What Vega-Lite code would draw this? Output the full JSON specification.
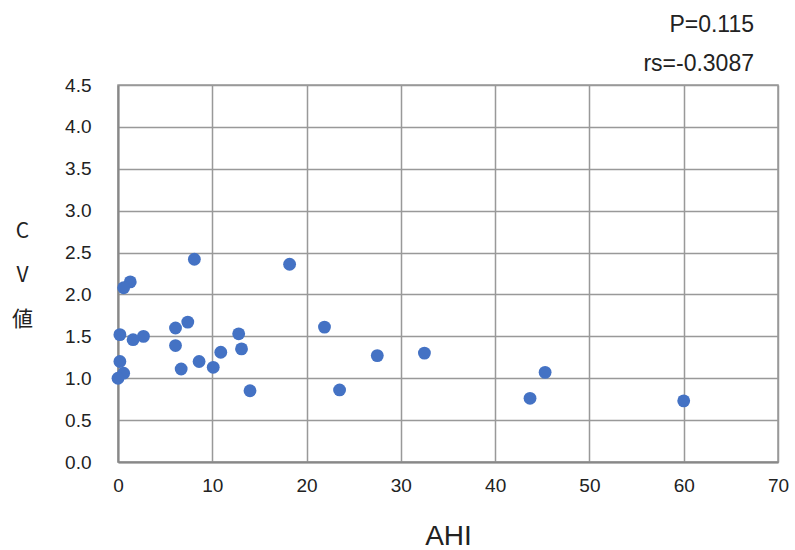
{
  "$schema": "https://vega.github.io/schema/vega-lite/v6.json",
  "width": 660,
  "height": 377,
  "autosize": {"type": "none"},
  "padding": {"left": 118, "top": 85, "right": 17, "bottom": 88},
  "background": "white",
  "title": {
    "text": "P=0.115",
    "subtitle": "rs=-0.3087",
    "anchor": "end",
    "frame": "group",
    "dx": -24,
    "offset": 0,
    "font": "Liberation Sans",
    "fontSize": 23,
    "fontWeight": "normal",
    "color": "#222222",
    "subtitleFont": "Liberation Sans",
    "subtitleFontSize": 23,
    "subtitleColor": "#222222",
    "subtitlePadding": 16
  },
  "data": {
    "values": [
      {"AHI": 8.1, "CV": 2.42},
      {"AHI": 18.2, "CV": 2.36},
      {"AHI": 1.3, "CV": 2.15},
      {"AHI": 0.6, "CV": 2.08},
      {"AHI": 7.4, "CV": 1.67},
      {"AHI": 6.1, "CV": 1.6},
      {"AHI": 0.2, "CV": 1.52},
      {"AHI": 2.7, "CV": 1.5},
      {"AHI": 1.6, "CV": 1.46},
      {"AHI": 12.8, "CV": 1.53},
      {"AHI": 6.1, "CV": 1.39},
      {"AHI": 13.1, "CV": 1.35},
      {"AHI": 10.9, "CV": 1.31},
      {"AHI": 8.6, "CV": 1.2},
      {"AHI": 0.2, "CV": 1.2},
      {"AHI": 6.7, "CV": 1.11},
      {"AHI": 10.1, "CV": 1.13},
      {"AHI": 0.6, "CV": 1.06},
      {"AHI": 0.0, "CV": 1.0},
      {"AHI": 14.0, "CV": 0.85},
      {"AHI": 21.9, "CV": 1.61},
      {"AHI": 27.5, "CV": 1.27},
      {"AHI": 32.5, "CV": 1.3},
      {"AHI": 23.5, "CV": 0.86},
      {"AHI": 45.3, "CV": 1.07},
      {"AHI": 43.7, "CV": 0.76},
      {"AHI": 60.0, "CV": 0.73}
    ]
  },
  "mark": {"type": "circle", "size": 165, "color": "#4472C4", "opacity": 1},
  "encoding": {
    "x": {
      "field": "AHI",
      "type": "quantitative",
      "scale": {"domain": [0, 70], "nice": false, "zero": false},
      "axis": {
        "values": [0, 10, 20, 30, 40, 50, 60, 70],
        "title": "AHI",
        "titleFont": "Liberation Sans",
        "titleFontSize": 28,
        "titleFontWeight": "normal",
        "titleColor": "#222222",
        "titlePadding": 27,
        "labelFont": "Liberation Sans",
        "labelFontSize": 19,
        "labelColor": "#222222",
        "labelPadding": 14,
        "labelFlush": false,
        "labelOverlap": false,
        "ticks": false,
        "domainColor": "#888888",
        "domainWidth": 2,
        "gridColor": "#999999",
        "gridWidth": 1.5,
        "gridOpacity": 1
      }
    },
    "y": {
      "field": "CV",
      "type": "quantitative",
      "scale": {"domain": [0, 4.5], "nice": false},
      "axis": {
        "values": [0, 0.5, 1, 1.5, 2, 2.5, 3, 3.5, 4, 4.5],
        "format": ".1f",
        "title": ["C", "V", "値"],
        "titleAngle": 0,
        "titleAlign": "center",
        "titleBaseline": "middle",
        "titleLineHeight": 44,
        "titleX": -96,
        "titleY": 146,
        "titleFont": "Noto Sans CJK JP",
        "titleFontSize": 21,
        "titleFontWeight": "normal",
        "titleColor": "#222222",
        "labelFont": "Liberation Sans",
        "labelFontSize": 19,
        "labelColor": "#222222",
        "labelPadding": 27,
        "labelFlush": false,
        "labelOverlap": false,
        "ticks": false,
        "domainColor": "#888888",
        "domainWidth": 2,
        "gridColor": "#999999",
        "gridWidth": 1.5,
        "gridOpacity": 1
      }
    }
  },
  "config": {
    "view": {"stroke": "#999999", "strokeWidth": 1.5}
  }
}
